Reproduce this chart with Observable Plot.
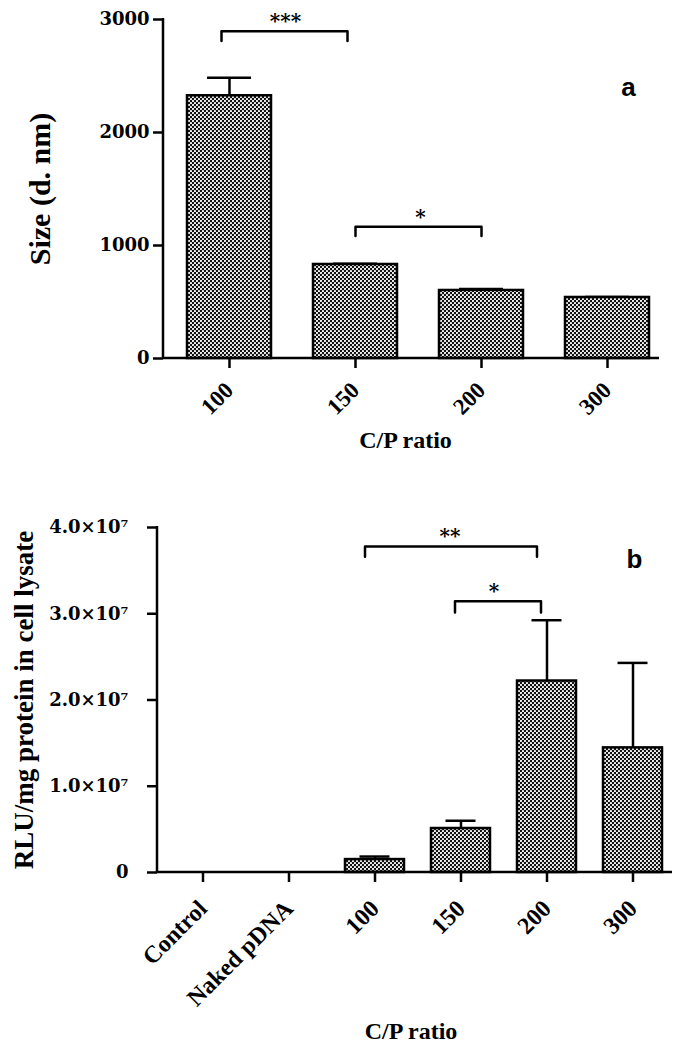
<!DOCTYPE html>
<html><head><meta charset="utf-8">
<script src="https://cdn.jsdelivr.net/npm/d3@7"></script>
<script src="https://cdn.jsdelivr.net/npm/@observablehq/plot@0.6"></script>
<style>
html,body{margin:0;padding:0;background:#fff;}
body{width:676px;height:1050px;position:relative;overflow:hidden;}
#a{position:absolute;left:0;top:0;}
#b{position:absolute;left:0;top:480px;}
</style></head><body>
<div id="a"></div><div id="b"></div>
<script>
// ---------- Panel a: particle size ----------
const ratiosA = ["100", "150", "200", "300"];
const sizeMean = [2325, 832, 602, 540];
const sizeErr = [160, 6, 14, 4];
const ticksA = [0, 1000, 2000, 3000];
const bracketFromA = ["100", "150"];
const bracketToA = ["150", "200"];
const bracketYA = [2895, 1165];
const bracketDropA = [85, 80];
const bracketLabelA = ["***", "*"];

// ---------- Panel b: transfection ----------
const groupsB = ["Control", "Naked pDNA", "100", "150", "200", "300"];
const rluMean = [0, 0, 1.5e6, 5.1e6, 2.22e7, 1.445e7];
const rluErr = [0, 0, 0.35e6, 0.9e6, 0.705e7, 0.985e7];
const ticksB = [0, 1e7, 2e7, 3e7, 4e7];
const tickLabelsB = ["0", "1.0×10⁷", "2.0×10⁷", "3.0×10⁷", "4.0×10⁷"];
const bracketFromB = ["100", "150"];
const bracketToB = ["200", "200"];
const bracketYB = [3.78e7, 3.145e7];
const bracketDropB = [0.12e7, 0.13e7];
const bracketLabelB = ["**", "*"];

const WIDE = "'DejaVu Serif', serif";
const TIMES = "'Liberation Serif', 'Times New Roman', serif";
const SANS = "'Liberation Sans', Arial, sans-serif";

const dataA = ratiosA.map((r, i) => ({ratio: r, mean: sizeMean[i], top: sizeMean[i] + sizeErr[i]}));
const dataB = groupsB.map((g, i) => ({group: g, mean: rluMean[i], top: rluMean[i] + rluErr[i]}));

function bracketPts(from, to, y, drop) {
  return [{x: from, y: y - drop}, {x: from, y: y}, {x: to, y: y}, {x: to, y: y - drop}];
}

function axisLines(index, scales, values, dims) {
  const g = d3.create("svg:g").attr("stroke", "#000").attr("stroke-width", 2.5).attr("fill", "none");
  const x0 = dims.marginLeft, x1 = dims.width - dims.marginRight;
  const y0 = dims.height - dims.marginBottom, yt = dims.marginTop;
  g.append("line").attr("x1", x0).attr("x2", x0).attr("y1", yt - 1).attr("y2", y0 + 1);
  g.append("line").attr("x1", x0).attr("x2", x1).attr("y1", y0).attr("y2", y0);
  return g.node();
}

function addPattern(svg, id) {
  const defs = d3.select(svg).insert("defs", ":first-child");
  const p = defs.append("pattern").attr("id", id).attr("patternUnits", "userSpaceOnUse")
    .attr("width", 4).attr("height", 4);
  p.append("rect").attr("width", 4).attr("height", 4).attr("fill", "#111");
  p.append("circle").attr("cx", 1).attr("cy", 1).attr("r", 1.1).attr("fill", "#fff");
  p.append("circle").attr("cx", 3).attr("cy", 3).attr("r", 1.1).attr("fill", "#fff");
}

const bracketDxA = [-8, 0], starDxA = [56, 65];
const bracketDxB = [-10, -6], starDxB = [75, 33];

const plotA = Plot.plot({
  width: 676, height: 470,
  marginLeft: 163, marginRight: 17, marginTop: 19, marginBottom: 112,
  style: {fontFamily: WIDE, fontWeight: "bold", fontSize: "18px", color: "#000", background: "#fff"},
  x: {type: "band", domain: ratiosA, paddingInner: 0.33, paddingOuter: 0.118, align: 0.72, label: null},
  y: {domain: [0, 3000], label: null},
  marks: [
    Plot.ruleX(dataA, {x: "ratio", y1: "mean", y2: "top", stroke: "#000", strokeWidth: 2.5}),
    Plot.tickY(dataA, {x: "ratio", y: "top", stroke: "#000", strokeWidth: 2.5, insetLeft: 20, insetRight: 20}),
    Plot.barY(dataA, {x: "ratio", y: "mean", fill: "url(#dotsA)", stroke: "#000", strokeWidth: 2.5}),
    axisLines,
    Plot.axisY({ticks: ticksA, tickSize: 10, tickPadding: 4, strokeWidth: 2.5, tickFormat: d => String(d), fontSize: 18, fontFamily: WIDE, label: null}),
    Plot.axisX({tickSize: 10, tickPadding: 18, tickRotate: -45, strokeWidth: 2.5, fontSize: 23, fontFamily: TIMES, label: null}),
    ...bracketFromA.map((f, i) => Plot.line(bracketPts(f, bracketToA[i], bracketYA[i], bracketDropA[i]),
      {x: "x", y: "y", stroke: "#000", strokeWidth: 2.5, dx: bracketDxA[i], curve: "linear"})),
    ...bracketFromA.map((f, i) => Plot.text([bracketLabelA[i]],
      {x: () => f, y: () => bracketYA[i], dx: starDxA[i], dy: -3, lineAnchor: "bottom", textAnchor: "middle", fontSize: 20, fontFamily: WIDE})),
    Plot.text(["Size (d. nm)"], {frameAnchor: "left", rotate: -90, dx: -114, lineAnchor: "bottom", textAnchor: "middle", fontSize: 30, fontFamily: TIMES}),
    Plot.text(["C/P ratio"], {frameAnchor: "bottom", dx: -6, dy: 89, lineAnchor: "bottom", textAnchor: "middle", fontSize: 24, fontFamily: TIMES}),
    Plot.text(["a"], {frameAnchor: "top-right", dx: -31, dy: 76, lineAnchor: "bottom", textAnchor: "middle", fontSize: 26, fontFamily: SANS})
  ]
});
addPattern(plotA, "dotsA");
document.getElementById("a").appendChild(plotA);

const plotB = Plot.plot({
  width: 676, height: 570,
  marginLeft: 157, marginRight: 4, marginTop: 47, marginBottom: 178,
  style: {fontFamily: WIDE, fontWeight: "bold", fontSize: "18px", color: "#000", background: "#fff"},
  x: {type: "band", domain: groupsB, paddingInner: 0.31, paddingOuter: 0.14, align: 0.635, label: null},
  y: {domain: [0, 4e7], label: null},
  marks: [
    Plot.ruleX(dataB.filter(d => d.top > d.mean), {x: "group", y1: "mean", y2: "top", stroke: "#000", strokeWidth: 2.5}),
    Plot.tickY(dataB.filter(d => d.top > d.mean), {x: "group", y: "top", stroke: "#000", strokeWidth: 2.5, insetLeft: 14.5, insetRight: 14.5}),
    Plot.barY(dataB.filter(d => d.mean > 0), {x: "group", y: "mean", fill: "url(#dotsB)", stroke: "#000", strokeWidth: 2.5}),
    axisLines,
    Plot.axisY({ticks: ticksB, tickSize: 10, tickPadding: 19, strokeWidth: 2.5, tickFormat: d => tickLabelsB[ticksB.indexOf(d)], fontSize: 18, fontFamily: WIDE, label: null}),
    Plot.axisX({tickSize: 10, tickPadding: 22, tickRotate: -45, strokeWidth: 2.5, fontSize: 24, fontFamily: TIMES, label: null}),
    ...bracketFromB.map((f, i) => Plot.line(bracketPts(f, bracketToB[i], bracketYB[i], bracketDropB[i]),
      {x: "x", y: "y", stroke: "#000", strokeWidth: 2.5, dx: bracketDxB[i], curve: "linear"})),
    ...bracketFromB.map((f, i) => Plot.text([bracketLabelB[i]],
      {x: () => f, y: () => bracketYB[i], dx: starDxB[i], dy: -3, lineAnchor: "bottom", textAnchor: "middle", fontSize: 20, fontFamily: WIDE})),
    Plot.text(["RLU/mg protein in cell lysate"], {frameAnchor: "left", rotate: -90, dx: -125, lineAnchor: "bottom", textAnchor: "middle", fontSize: 27, fontFamily: TIMES}),
    Plot.text(["C/P ratio"], {frameAnchor: "bottom", dx: -4, dy: 166, lineAnchor: "bottom", textAnchor: "middle", fontSize: 24, fontFamily: TIMES}),
    Plot.text(["b"], {frameAnchor: "top-right", dx: -38, dy: 40, lineAnchor: "bottom", textAnchor: "middle", fontSize: 26, fontFamily: SANS})
  ]
});
addPattern(plotB, "dotsB");
document.getElementById("b").appendChild(plotB);
</script>
</body></html>
